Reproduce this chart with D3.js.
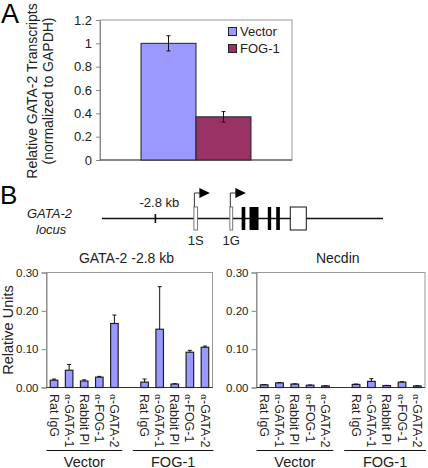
<!DOCTYPE html>
<html><head><meta charset="utf-8">
<script src="https://cdn.jsdelivr.net/npm/d3@7"></script>
<style>
body{margin:0;background:#fff;}
svg{display:block;font-family:"Liberation Sans",Arial,sans-serif;}
</style></head>
<body>
<svg id="c" width="428" height="468"></svg>
<script>
// ---------- Panel A data ----------
const aSeries = ["Vector", "FOG-1"];
const aValues = [1.0, 0.37];
const aErrors = [0.065, 0.045];
const aTicks = [0, 0.2, 0.4, 0.6, 0.8, 1, 1.2];

// ---------- Panel B data ----------
const bAntibodies = ["Rat IgG", "α-GATA-1", "Rabbit PI", "α-FOG-1", "α-GATA-2"];
const bGroups = ["Vector", "FOG-1"];
const gataValues = [0.019, 0.045, 0.017, 0.027, 0.167, 0.014, 0.152, 0.009, 0.092, 0.105];
const gataErrors = [0.003, 0.015, 0.003, 0.002, 0.022, 0.008, 0.111, 0.001, 0.005, 0.003];
const necdinValues = [0.007, 0.012, 0.009, 0.006, 0.004, 0.008, 0.016, 0.005, 0.014, 0.004];
const necdinErrors = [0.0005, 0.001, 0.0005, 0.0005, 0.0005, 0.001, 0.007, 0.0005, 0.001, 0.0005];
const bTicks = [0, 0.1, 0.2, 0.3];

// gene diagram (schematic units)
const locusExtent = [0, 100];
const siteMark = 19;
const promoterExons = [{name: "1S", start: 32.7, end: 34}, {name: "1G", start: 45.5, end: 46.5}];
const codingExons = [[49.7, 51], [52.5, 55.7], [59, 60.2], [62, 63.3]];
const utrExon = [67, 72.7];

const svg = d3.select("#c");
const colVec = "#9999ff", colFog = "#993366";

// ===== Panel A =====
const ay = d3.scaleLinear().domain([0, 1.2]).range([160, 20]);
const ax = d3.scaleBand().domain(["GATA-2"]).range([100, 292]).paddingInner(0).paddingOuter(0.373);
const ax1 = d3.scaleBand().domain(aSeries).range([0, ax.bandwidth()]);
const colA = d3.scaleOrdinal().domain(aSeries).range([colVec, colFog]);

svg.append("rect").attr("x", 100).attr("y", 20).attr("width", 192).attr("height", 140)
  .attr("fill", "none").attr("stroke", "#999");
const aAxis = svg.append("g").attr("transform", "translate(100,0)")
  .call(d3.axisLeft(ay).tickValues(aTicks).tickSize(4).tickPadding(4).tickFormat(d3.format("~g")));
aAxis.select(".domain").attr("stroke", "#888");
aAxis.selectAll(".tick line").attr("stroke", "#888");
aAxis.selectAll("text").attr("font-size", 13).attr("fill", "#222").attr("font-family", "Liberation Sans, Arial, sans-serif");
svg.append("line").attr("x1", 100).attr("x2", 292).attr("y1", 160).attr("y2", 160).attr("stroke", "#444");

aSeries.forEach((s, i) => {
  const x = ax("GATA-2") + ax1(s);
  svg.append("rect").attr("x", x).attr("y", ay(aValues[i])).attr("width", ax1.bandwidth())
    .attr("height", ay(0) - ay(aValues[i])).attr("fill", colA(s)).attr("stroke", "#222").attr("stroke-width", 1);
  const cx = x + ax1.bandwidth() / 2;
  const g = svg.append("g").attr("stroke", "#111").attr("stroke-width", 1);
  g.append("line").attr("x1", cx).attr("x2", cx).attr("y1", ay(aValues[i] + aErrors[i])).attr("y2", ay(aValues[i] - aErrors[i]));
  g.append("line").attr("x1", cx - 2).attr("x2", cx + 2).attr("y1", ay(aValues[i] + aErrors[i])).attr("y2", ay(aValues[i] + aErrors[i]));
  g.append("line").attr("x1", cx - 2).attr("x2", cx + 2).attr("y1", ay(aValues[i] - aErrors[i])).attr("y2", ay(aValues[i] - aErrors[i]));
});
// legend
aSeries.forEach((s, i) => {
  svg.append("rect").attr("x", 228.5).attr("y", 27.5 + i * 17).attr("width", 8).attr("height", 8)
    .attr("fill", colA(s)).attr("stroke", "#222");
  svg.append("text").attr("x", 240).attr("y", 35.5 + i * 17).attr("font-size", 13).attr("fill", "#222").text(s);
});
// y title
const ayt = svg.append("text").attr("transform", "translate(37,91) rotate(-90)").attr("text-anchor", "middle")
  .attr("font-size", 14).attr("fill", "#222");
ayt.append("tspan").attr("x", 0).attr("dy", 0).text("Relative GATA-2 Transcripts");
ayt.append("tspan").attr("x", 0).attr("dy", 16).text("(normalized to GAPDH)");
svg.append("text").attr("x", 1).attr("y", 23).attr("font-size", 27).attr("fill", "#000").text("A");

// ===== Panel B: gene diagram =====
svg.append("text").attr("x", 0).attr("y", 204).attr("font-size", 26).attr("fill", "#000").text("B");
svg.append("text").attr("x", 27).attr("y", 218).attr("font-size", 13).attr("font-style", "italic").attr("fill", "#222").text("GATA-2");
svg.append("text").attr("x", 36).attr("y", 234).attr("font-size", 13).attr("font-style", "italic").attr("fill", "#222").text("locus");

const gx = d3.scaleLinear().domain(locusExtent).range([102, 383]);
const ly = 218.5;
svg.append("line").attr("x1", gx(locusExtent[0])).attr("x2", gx(locusExtent[1])).attr("y1", ly).attr("y2", ly)
  .attr("stroke", "#111").attr("stroke-width", 1.6);
svg.append("line").attr("x1", gx(siteMark)).attr("x2", gx(siteMark)).attr("y1", 214).attr("y2", 223)
  .attr("stroke", "#111").attr("stroke-width", 1.6);
svg.append("text").attr("x", gx(siteMark) + 4).attr("y", 207).attr("text-anchor", "middle").attr("font-size", 13).attr("fill", "#222").text("-2.8 kb");

promoterExons.forEach(e => {
  const x0 = gx(e.start), x1 = gx(e.end);
  svg.append("rect").attr("x", x0).attr("y", 207).attr("width", x1 - x0).attr("height", 23)
    .attr("fill", "#fff").attr("stroke", "#777").attr("stroke-width", 1);
  svg.append("path").attr("d", `M${x0 + 0.5},207 V193 H${x0 + 6}`).attr("fill", "none").attr("stroke", "#333").attr("stroke-width", 1);
  svg.append("path").attr("d", `M${x0 + 5.5},188 L${x0 + 16},193 L${x0 + 5.5},198 Z`).attr("fill", "#000");
  svg.append("text").attr("x", (x0 + x1) / 2).attr("y", 245).attr("text-anchor", "middle").attr("font-size", 13).attr("fill", "#222").text(e.name);
});
codingExons.forEach(e => {
  svg.append("rect").attr("x", gx(e[0])).attr("y", 207).attr("width", gx(e[1]) - gx(e[0])).attr("height", 23).attr("fill", "#000");
});
svg.append("rect").attr("x", gx(utrExon[0])).attr("y", 207).attr("width", gx(utrExon[1]) - gx(utrExon[0])).attr("height", 23)
  .attr("fill", "#fff").attr("stroke", "#111").attr("stroke-width", 1);

// ===== Panel B: bar charts =====
function barChart(x0, x1, title, values, errors, showYTitle) {
  const slots = [];
  bGroups.forEach((g, gi) => {
    bAntibodies.forEach((a, ai) => slots.push(g + "|" + a));
    if (gi < bGroups.length - 1) slots.push("gap" + gi);
  });
  const x = d3.scaleBand().domain(slots).range([x0, x1]).paddingInner(0.5).paddingOuter(0.25);
  const y = d3.scaleLinear().domain([0, 0.3]).range([387.5, 272.5]);
  svg.append("rect").attr("x", x0).attr("y", 272.5).attr("width", x1 - x0).attr("height", 115)
    .attr("fill", "none").attr("stroke", "#999");
  const ya = svg.append("g").attr("transform", `translate(${x0},0)`)
    .call(d3.axisLeft(y).tickValues(bTicks).tickSize(5).tickPadding(3).tickFormat(d3.format(".2f")));
  ya.select(".domain").attr("stroke", "#888");
  ya.selectAll(".tick line").attr("stroke", "#888");
  ya.selectAll("text").attr("font-size", 11.5).attr("fill", "#222").attr("font-family", "Liberation Sans, Arial, sans-serif");
  svg.append("line").attr("x1", x0).attr("x2", x1).attr("y1", 387.5).attr("y2", 387.5).attr("stroke", "#333");

  svg.append("text").attr("x", (x0 + x1) / 2 - 3).attr("y", 263).attr("text-anchor", "middle").attr("font-size", 14).attr("fill", "#222").text(title);

  let k = 0;
  bGroups.forEach((g, gi) => {
    bAntibodies.forEach((a, ai) => {
      const key = g + "|" + a;
      const v = values[k], e = errors[k];
      const bx = x(key), bw = x.bandwidth(), cx = bx + bw / 2;
      svg.append("rect").attr("x", bx).attr("y", y(v)).attr("width", bw).attr("height", y(0) - y(v))
        .attr("fill", colVec).attr("stroke", "#222").attr("stroke-width", 1.2);
      svg.append("line").attr("x1", cx).attr("x2", cx).attr("y1", y(v)).attr("y2", y(v + e)).attr("stroke", "#111");
      svg.append("line").attr("x1", cx - 2).attr("x2", cx + 2).attr("y1", y(v + e)).attr("y2", y(v + e)).attr("stroke", "#111");
      // label
      const t = svg.append("text").attr("transform", `translate(${cx},394) rotate(90)`)
        .attr("dy", "0.35em").attr("font-size", 12.5).attr("fill", "#222");
      if (a.startsWith("α")) {
        t.append("tspan").attr("font-family", "DejaVu Serif, Liberation Serif, serif").attr("font-size", 9).text("α");
        t.append("tspan").text(a.slice(1));
      } else t.text(a);
      k++;
    });
    const first = x(g + "|" + bAntibodies[0]), last = x(g + "|" + bAntibodies[bAntibodies.length - 1]) + x.bandwidth();
    const gxa = gi === 0 ? x0 : first - 8, gxb = gi === 0 ? last + 4 : x1 + 1;
    svg.append("line").attr("x1", gxa).attr("x2", gxb).attr("y1", 450.5).attr("y2", 450.5).attr("stroke", "#111").attr("stroke-width", 1.2);
    svg.append("text").attr("x", (gxa + gxb) / 2).attr("y", 466.5).attr("text-anchor", "middle").attr("font-size", 14.5).attr("fill", "#222").text(g);
  });
  if (showYTitle) {
    svg.append("text").attr("transform", `translate(13,${(272.5 + 387.5) / 2}) rotate(-90)`).attr("text-anchor", "middle")
      .attr("font-size", 14.5).attr("fill", "#222").text("Relative Units");
  }
}
barChart(46.5, 212.5, "GATA-2 -2.8 kb", gataValues, gataErrors, true);
barChart(256.5, 425, "Necdin", necdinValues, necdinErrors, false);
</script>
</body></html>
